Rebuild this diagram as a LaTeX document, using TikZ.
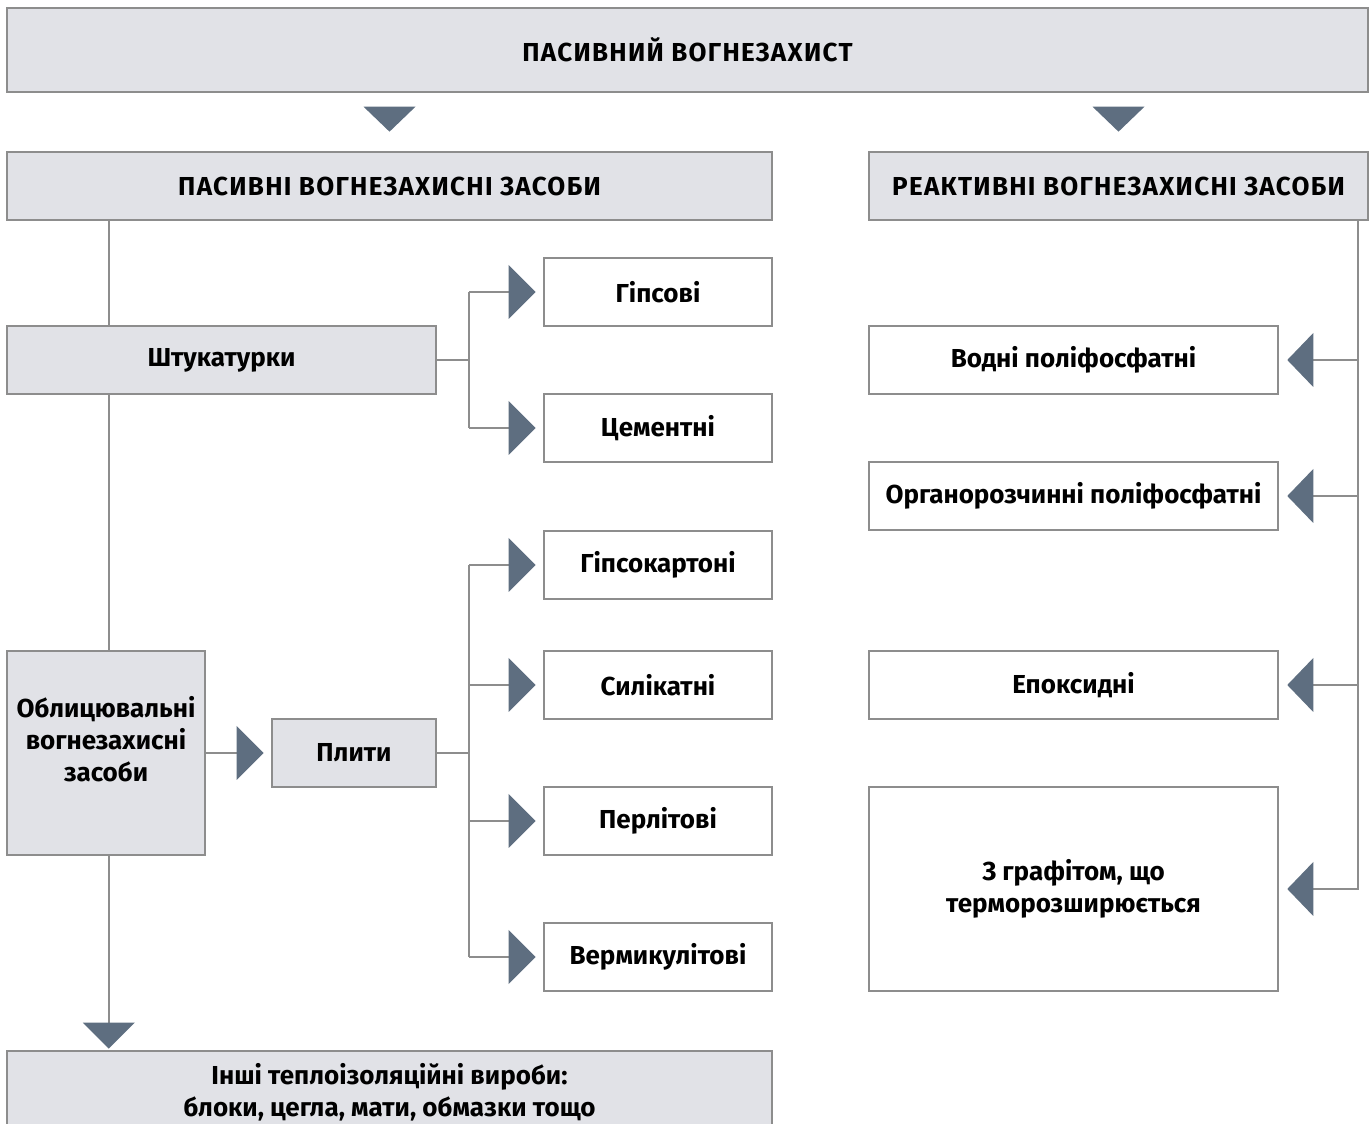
\documentclass[tikz,border=0pt]{standalone}
\usepackage{fontspec}
\setmainfont{Fira Sans}
\newfontfamily\capsfont{Fira Sans}[LetterSpace=5]
\usetikzlibrary{calc}
\definecolor{boxgrey}{HTML}{E1E2E7}
\definecolor{edgegrey}{HTML}{8D8D8D}
\definecolor{tipblue}{HTML}{5E6E80}

\begin{document}
\begin{tikzpicture}[x=0.02cm, y=0.02cm]
\tikzstyle{every node}+=[font=\bfseries\fontsize{14.8}{18}\selectfont, align=center, text=black]
\tikzstyle{greybox}=[draw=edgegrey, line width=1.5pt, fill=boxgrey, inner sep=0pt]
\tikzstyle{whitebox}=[draw=edgegrey, line width=1.5pt, fill=white, inner sep=0pt]
\tikzstyle{link}=[draw=edgegrey, line width=1.3pt]
\useasboundingbox (0,0) rectangle (1370,-1124);
% header and the two groups
\node [greybox, minimum width=27.22cm, minimum height=1.68cm] (top) at (687.5,-50) {\capsfont ПАСИВНИЙ ВОГНЕЗАХИСТ};
\node [greybox, minimum width=15.3cm, minimum height=1.36cm] (pass) at (389.5,-186) {\capsfont ПАСИВНІ ВОГНЕЗАХИСНІ ЗАСОБИ};
\node [greybox, minimum width=9.98cm, minimum height=1.36cm] (react) at (1118.5,-186) {\capsfont РЕАКТИВНІ ВОГНЕЗАХИСНІ ЗАСОБИ};
\fill [tipblue] ($(pass.north)+(0,19)$) -- ++(-26,25) -- ++(52,0) -- cycle;
\fill [tipblue] ($(react.north)+(0,19)$) -- ++(-26,25) -- ++(52,0) -- cycle;
% passive side
\node [greybox, minimum width=8.58cm, minimum height=1.36cm] (shtuk) at (221.5,-360) {Штукатурки};
\node [whitebox, minimum width=4.56cm, minimum height=1.36cm] (gips) at (658,-292) {Гіпсові};
\node [whitebox, minimum width=4.56cm, minimum height=1.36cm] (cem) at (658,-428) {Цементні};
\node [greybox, minimum width=3.96cm, minimum height=4.08cm] (oblyc) at (106,-753) {Облицювальні\\вогнезахисні\\засоби\\[-2pt]\mbox{}};
\node [greybox, minimum width=3.28cm, minimum height=1.36cm] (plyty) at (354,-753) {Плити};
\node [whitebox, minimum width=4.56cm, minimum height=1.36cm] (gk) at (658,-565) {Гіпсокартоні};
\node [whitebox, minimum width=4.56cm, minimum height=1.36cm] (sil) at (658,-685) {Силікатні};
\node [whitebox, minimum width=4.56cm, minimum height=1.36cm] (perl) at (658,-821) {Перлітові};
\node [whitebox, minimum width=4.56cm, minimum height=1.36cm] (verm) at (658,-957) {Вермикулітові};
\node [greybox, minimum width=15.3cm, minimum height=1.64cm] (inshi) at (389.5,-1092) {Інші теплоізоляційні вироби:\\блоки, цегла, мати, обмазки тощо};
% reactive side
\node [whitebox, minimum width=8.18cm, minimum height=1.36cm] (vodni) at (1073.5,-360) {Водні поліфосфатні};
\node [whitebox, minimum width=8.18cm, minimum height=1.36cm] (org) at (1073.5,-496) {Органорозчинні поліфосфатні};
\node [whitebox, minimum width=8.18cm, minimum height=1.36cm] (epox) at (1073.5,-685) {Епоксидні};
\node [whitebox, minimum width=8.18cm, minimum height=4.08cm] (graf) at (1073.5,-889) {З графітом, що\\терморозширюється};
% left trunk
\coordinate (ltrunk) at ($(pass.south west)+(103,0)$);
\draw [link] (ltrunk) -- (ltrunk |- shtuk.north);
\draw [link] (ltrunk |- shtuk.south) -- (ltrunk |- oblyc.north);
\draw [link] (ltrunk |- oblyc.south) -- ($(ltrunk |- inshi.north)+(0,26)$);
\fill [tipblue] ($(ltrunk |- inshi.north)+(0,1)$) -- ++(-26,26) -- ++(52,0) -- cycle;
% plaster fork
\coordinate (sfork) at ($(shtuk.east)+(32,0)$);
\draw [link] (shtuk.east) -- (sfork);
\draw [link] (sfork |- gips) -- (sfork |- cem);
\draw [link] (sfork |- gips) -- ($(gips.west)+(-34,0)$);
\draw [link] (sfork |- cem) -- ($(cem.west)+(-34,0)$);
\fill [tipblue] ($(gips.west)+(-7,0)$) -- ++(-27,27) -- ++(0,-54) -- cycle;
\fill [tipblue] ($(cem.west)+(-7,0)$) -- ++(-27,27) -- ++(0,-54) -- cycle;
% boards fork
\draw [link] (oblyc.east) -- ($(plyty.west)+(-34,0)$);
\fill [tipblue] ($(plyty.west)+(-7,0)$) -- ++(-27,27) -- ++(0,-54) -- cycle;
\coordinate (pfork) at ($(plyty.east)+(32,0)$);
\draw [link] (plyty.east) -- (pfork);
\draw [link] (pfork |- gk) -- (pfork |- verm);
\draw [link] (pfork |- gk) -- ($(gk.west)+(-34,0)$);
\draw [link] (pfork |- sil) -- ($(sil.west)+(-34,0)$);
\draw [link] (pfork |- perl) -- ($(perl.west)+(-34,0)$);
\draw [link] (pfork |- verm) -- ($(verm.west)+(-34,0)$);
\fill [tipblue] ($(gk.west)+(-7,0)$) -- ++(-27,27) -- ++(0,-54) -- cycle;
\fill [tipblue] ($(sil.west)+(-7,0)$) -- ++(-27,27) -- ++(0,-54) -- cycle;
\fill [tipblue] ($(perl.west)+(-7,0)$) -- ++(-27,27) -- ++(0,-54) -- cycle;
\fill [tipblue] ($(verm.west)+(-7,0)$) -- ++(-27,27) -- ++(0,-54) -- cycle;
% right trunk
\coordinate (rtrunk) at ($(react.south east)+(-11,0)$);
\draw [link] (rtrunk) -- (rtrunk |- graf) -- ($(graf.east)+(34,0)$);
\draw [link] (rtrunk |- vodni) -- ($(vodni.east)+(34,0)$);
\draw [link] (rtrunk |- org) -- ($(org.east)+(34,0)$);
\draw [link] (rtrunk |- epox) -- ($(epox.east)+(34,0)$);
\fill [tipblue] ($(vodni.east)+(8,0)$) -- ++(26,27) -- ++(0,-54) -- cycle;
\fill [tipblue] ($(org.east)+(8,0)$) -- ++(26,27) -- ++(0,-54) -- cycle;
\fill [tipblue] ($(epox.east)+(8,0)$) -- ++(26,27) -- ++(0,-54) -- cycle;
\fill [tipblue] ($(graf.east)+(8,0)$) -- ++(26,27) -- ++(0,-54) -- cycle;
\end{tikzpicture}
\end{document}
